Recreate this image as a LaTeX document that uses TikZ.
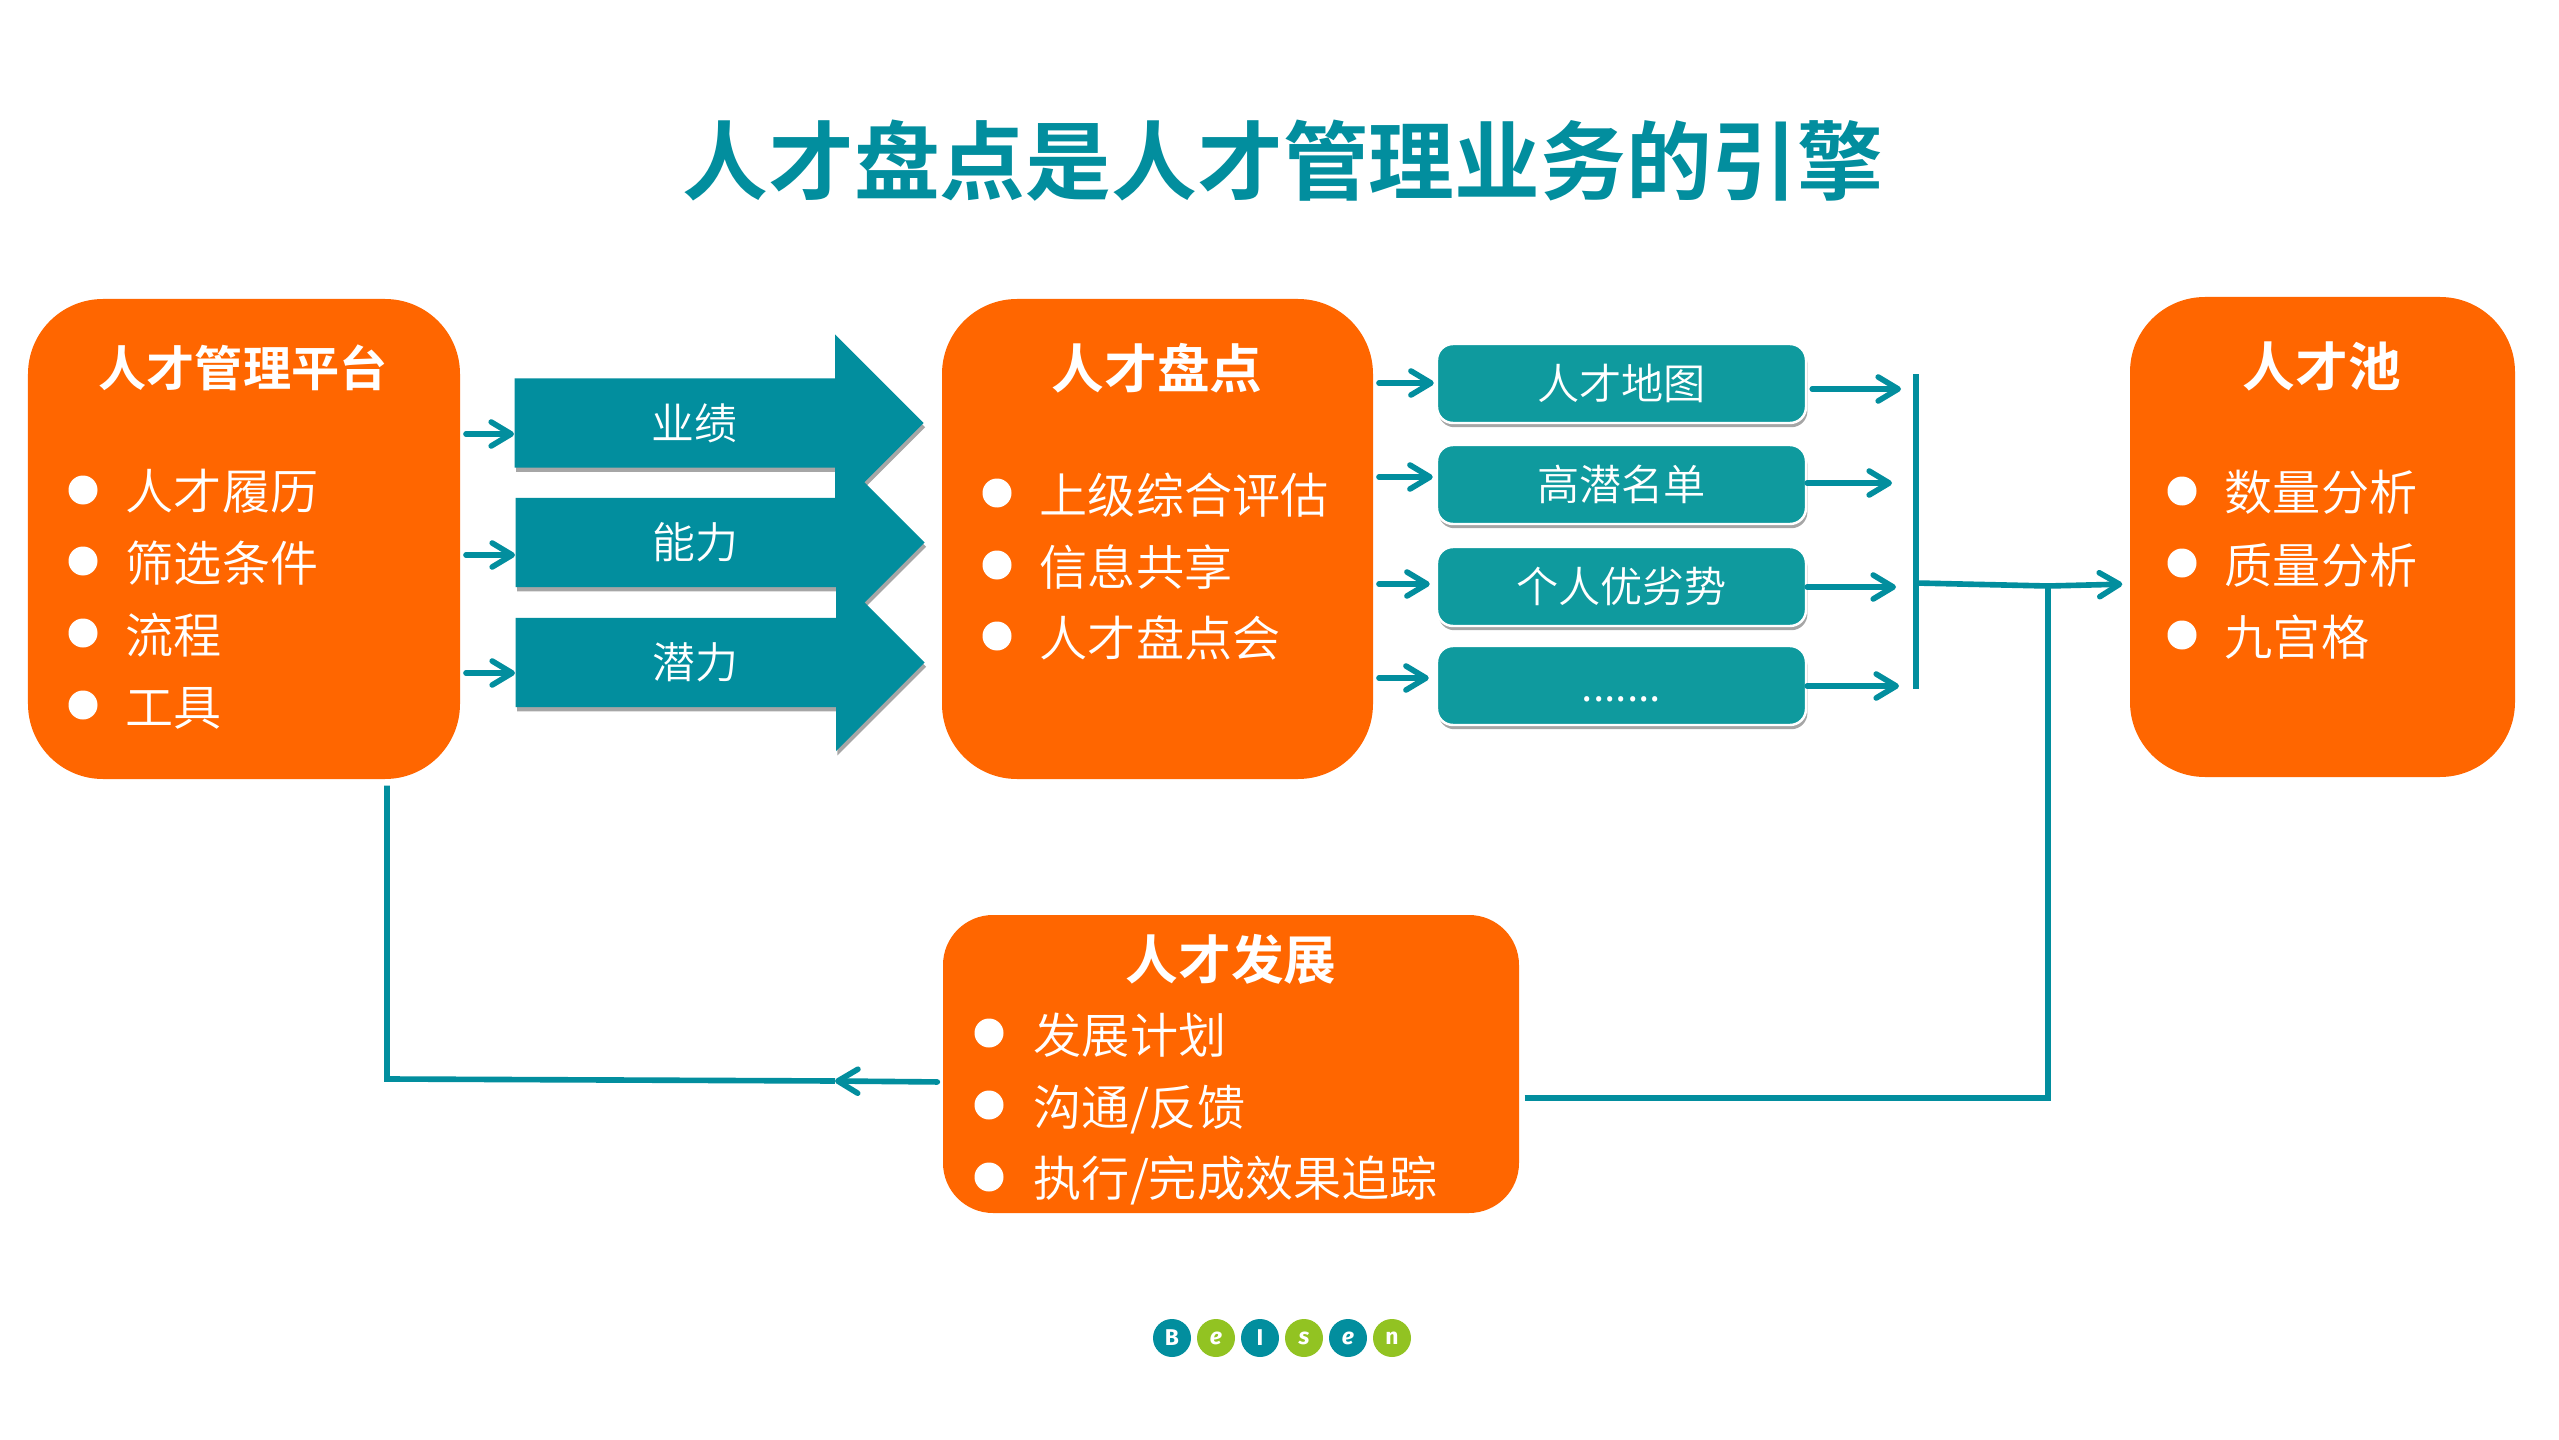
\documentclass[tikz,border=0pt]{standalone}
\usepackage{fontspec}
\setmainfont{Noto Sans CJK SC}[UprightFont=* DemiLight,BoldFont=* Bold]
\newfontfamily\logofont{Fira Sans}
\usepackage{xcolor}
\usetikzlibrary{arrows.meta, shapes.arrows, shadows}
\definecolor{teal0}{HTML}{028E9E}
\definecolor{teal1}{HTML}{0F9A9E}
\definecolor{orange0}{HTML}{FF6600}
\definecolor{green0}{HTML}{92C322}
\tikzset{
    softshadow/.style={drop shadow={shadow xshift=0.4pt, shadow yshift=-1.2pt, opacity=0.35, fill=black}},
    orangebox/.style={fill=orange0, rounded corners=0.75cm, inner sep=0pt},
    tealbox/.style={fill=teal1, draw=white, line width=0.7pt, rounded corners=0.16cm, inner sep=0pt,
        minimum width=3.69cm, minimum height=0.79cm, text=white, font=\fontsize{12pt}{14pt}\selectfont, softshadow},
    bigarrow/.style={single arrow, fill=teal0, anchor=tail, inner sep=0pt, minimum height=4.09cm, minimum width=1.76cm,
        single arrow head extend=0.44cm, single arrow tip angle=90, text=white, text height=0.60cm, text depth=0.28cm,
        font=\fontsize{12.2pt}{14pt}\selectfont, execute at end node={\hspace*{0.05cm}}, softshadow},
    boxtitle/.style={text=white, font=\fontsize{13.7pt}{16pt}\selectfont\bfseries},
    bigtitle/.style={text=white, font=\fontsize{15pt}{18pt}\selectfont\bfseries},
    listitem/.style={text=white, anchor=west, inner sep=0pt, text height=0.42cm, text depth=0.06cm,
        font=\fontsize{13.7pt}{16pt}\selectfont},
    dot/.style={circle, fill=white, inner sep=0pt, minimum size=0.29cm},
    logodot/.style={circle, inner sep=0pt, minimum size=0.38cm, text=white, font=\logofont\fontsize{6.5pt}{7pt}\selectfont\bfseries},
    link/.style={draw=teal0, line width=1.6pt},
    flow/.style={link, line cap=round, -{Straight Barb[round,length=2mm,width=2.4mm,line width=1.6pt]}}
}
\begin{document}
\begin{tikzpicture}
    \useasboundingbox (0, 0) rectangle (25.59, 14.39);
    \fill[white] (0, 0) rectangle (25.59, 14.39);

    % Title
    \node[text=teal0, font=\fontsize{24.4pt}{28pt}\selectfont\bfseries] (title) at (12.83, 12.78) {人才盘点是人才管理业务的引擎};

    % Orange boxes
    \node[orangebox, minimum width=4.32cm, minimum height=4.80cm] (platform) at (2.44, 9.00) {};
    \node[orangebox, minimum width=4.31cm, minimum height=4.80cm] (review) at (11.575, 9.00) {};
    \node[orangebox, minimum width=3.85cm, minimum height=4.80cm] (pool) at (23.225, 9.02) {};
    \node[orangebox, rounded corners=0.5cm, minimum width=5.76cm, minimum height=2.98cm] (develop) at (12.31, 3.75) {};

    % Platform
    \node[boxtitle] (platformtitle) at (2.43, 10.71) {人才管理平台};
    \node[dot] (pd1) at (0.83, 9.49) {};
    \node[dot] (pd2) at (0.83, 8.78) {};
    \node[dot] (pd3) at (0.83, 8.06) {};
    \node[dot] (pd4) at (0.83, 7.34) {};
    \node[listitem] (pt1) at (1.25, 9.48) {人才履历};
    \node[listitem] (pt2) at (1.25, 8.76) {筛选条件};
    \node[listitem] (pt3) at (1.25, 8.04) {流程};
    \node[listitem] (pt4) at (1.25, 7.32) {工具};

    % Review
    \node[bigtitle] (reviewtitle) at (11.57, 10.71) {人才盘点};
    \node[dot] (rd1) at (9.97, 9.46) {};
    \node[dot] (rd2) at (9.97, 8.74) {};
    \node[dot] (rd3) at (9.97, 8.03) {};
    \node[listitem] (rt1) at (10.39, 9.44) {上级综合评估};
    \node[listitem] (rt2) at (10.39, 8.72) {信息共享};
    \node[listitem] (rt3) at (10.39, 8.01) {人才盘点会};

    % Pool
    \node[bigtitle] (pooltitle) at (23.22, 10.73) {人才池};
    \node[dot] (od1) at (21.82, 9.48) {};
    \node[dot] (od2) at (21.82, 8.76) {};
    \node[dot] (od3) at (21.82, 8.04) {};
    \node[listitem] (ot1) at (22.24, 9.46) {数量分析};
    \node[listitem] (ot2) at (22.24, 8.74) {质量分析};
    \node[listitem] (ot3) at (22.24, 8.02) {九宫格};

    % Develop
    \node[bigtitle] (developtitle) at (12.31, 4.80) {人才发展};
    \node[dot] (dd1) at (9.89, 4.06) {};
    \node[dot] (dd2) at (9.89, 3.34) {};
    \node[dot] (dd3) at (9.89, 2.62) {};
    \node[listitem] (dt1) at (10.33, 4.04) {发展计划};
    \node[listitem] (dt2) at (10.33, 3.32) {沟通/反馈};
    \node[listitem] (dt3) at (10.33, 2.61) {执行/完成效果追踪};

    % Big arrows
    \node[bigarrow] (perform) at (5.14, 10.16) {业绩};
    \node[bigarrow] (ability) at (5.15, 8.965) {能力};
    \node[bigarrow] (potential) at (5.15, 7.765) {潜力};

    % Teal boxes
    \node[tealbox] (map) at (16.215, 10.555) {人才地图};
    \node[tealbox] (names) at (16.215, 9.545) {高潜名单};
    \node[tealbox] (strength) at (16.215, 8.525) {个人优劣势};
    \node[tealbox] (more) at (16.215, 7.535) {\vphantom{人}.......};

    % Arrows into the big arrows
    \coordinate (pa1) at (4.66, 10.05);
    \coordinate (pa2) at (4.66, 8.84);
    \coordinate (pa3) at (4.66, 7.66);
    \draw[flow] (pa1) -- (perform.tail |- pa1);
    \draw[flow] (pa2) -- (ability.tail |- pa2);
    \draw[flow] (pa3) -- (potential.tail |- pa3);

    % Arrows into the teal boxes
    \coordinate (ra1) at (13.79, 10.56);
    \coordinate (ra2) at (13.79, 9.62);
    \coordinate (ra3) at (13.79, 8.55);
    \coordinate (ra4) at (13.79, 7.61);
    \draw[flow, shorten >=0.02cm] (ra1) -- (map.west |- ra1);
    \draw[flow, shorten >=0.03cm] (ra2) -- (names.west |- ra2);
    \draw[flow, shorten >=0.06cm] (ra3) -- (strength.west |- ra3);
    \draw[flow, shorten >=0.07cm] (ra4) -- (more.west |- ra4);

    % Arrows out of the teal boxes
    \coordinate (ma1) at (19.01, 10.50);
    \coordinate (ma2) at (18.92, 9.56);
    \coordinate (ma3) at (18.96, 8.52);
    \coordinate (ma4) at (18.99, 7.53);
    \draw[flow, shorten <=0.05cm] (map.east |- ma1) -- (ma1);
    \draw[flow] (names.east |- ma2) -- (ma2);
    \draw[flow] (strength.east |- ma3) -- (ma3);
    \draw[flow] (more.east |- ma4) -- (ma4);

    % Bar and the way to the pool
    \coordinate (bartop) at (19.16, 10.65);
    \coordinate (barend) at (19.16, 7.50);
    \coordinate (barmid) at (19.16, 8.56);
    \coordinate (merge) at (20.48, 8.53);
    \draw[link] (bartop) -- (barend);
    \draw[flow, shorten >=0.07cm] (barmid) -- (merge) -- (pool.west |- 0, 8.55);

    % Way back from the development box
    \draw[link, shorten <=0.05cm] (develop.east |- 0, 3.41) -| (merge);
    \coordinate (backtip) at (8.35, 3.58);
    \coordinate (corner) at (3.87, 3.60);
    \draw[flow, shorten <=0.05cm] (develop.west |- 0, 3.57) -- (backtip);
    \draw[link, shorten >=0.06cm] (backtip) -- (corner) -- (corner |- platform.south);

    % Logo
    \node[logodot, fill=teal0] (logob) at (11.72, 1.01) {B};
    \node[logodot, fill=green0, font=\logofont\fontsize{6.5pt}{7pt}\selectfont\bfseries\itshape] (logoe) at (12.16, 1.01) {e};
    \node[logodot, fill=teal0] (logoi) at (12.60, 1.01) {I};
    \node[logodot, fill=green0, font=\logofont\fontsize{6.5pt}{7pt}\selectfont\bfseries\itshape] (logos) at (13.04, 1.01) {s};
    \node[logodot, fill=teal0, font=\logofont\fontsize{6.5pt}{7pt}\selectfont\bfseries\itshape] (logoee) at (13.48, 1.01) {e};
    \node[logodot, fill=green0] (logon) at (13.92, 1.01) {n};
\end{tikzpicture}
\end{document}
